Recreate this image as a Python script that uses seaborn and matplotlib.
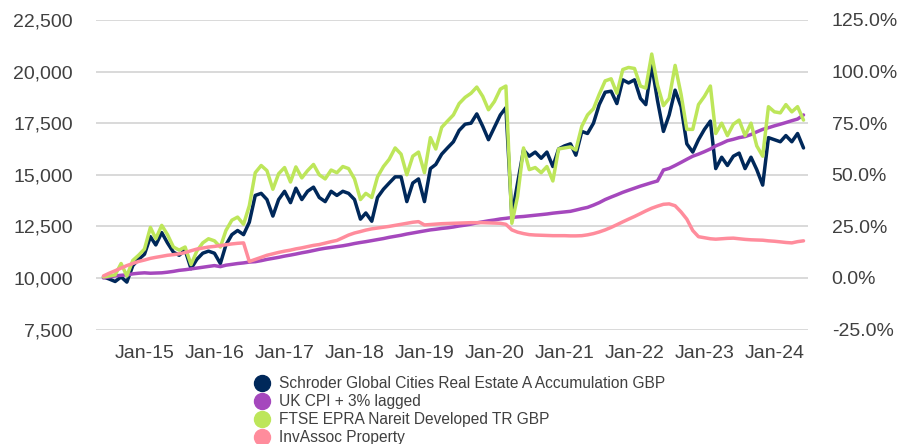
import pandas as pd
import matplotlib.pyplot as plt
import matplotlib.ticker as mticker
import matplotlib.dates as mdates
from matplotlib.lines import Line2D
import seaborn as sns

# month-end dates, May 2014 - May 2024
dates = pd.date_range("2014-05-31", periods=121, freq="ME")

schroder = [
    10050, 9950, 9830, 10050, 9800, 10600, 10900, 11150, 12000, 11600, 12200, 11700,
    11250, 11100, 11350, 10450, 10900, 11200, 11300, 11200, 10700, 11600, 12100, 12300,
    12100, 12700, 14000, 14100, 13800, 13000, 13800, 14200, 13650, 14350, 13800, 14200,
    14400, 13900, 13700, 14200, 14000, 14200, 14100, 13800, 12850, 13150, 12750, 13900,
    14300, 14600, 14900, 14900, 13700, 14600, 14800, 13700, 15300, 15500, 16000, 16300,
    16600, 17150, 17450, 17500, 17950, 17350, 16700, 17300, 17900, 18250, 13000, 14600,
    16200, 15900, 16100, 15800, 16100, 15400, 16250, 16400, 16500, 15950, 17100, 17000,
    17500, 18400, 19000, 19050, 18450, 19600, 19450, 19600, 18700, 18400, 20300, 18600,
    17100, 17900, 19100, 18300, 16500, 16100, 16700, 17200, 17600, 15300, 15850, 15450,
    15900, 16050, 15300, 15850, 15250, 14500, 16800, 16700, 16600, 16900, 16600, 17000,
    16300,
]

uk_cpi = [
    10000, 10050, 10100, 10130, 10150, 10200, 10230, 10250, 10230, 10240, 10250, 10280,
    10320, 10370, 10400, 10440, 10480, 10520, 10560, 10600, 10550, 10620, 10660, 10700,
    10730, 10770, 10790, 10840, 10900, 10950, 11000, 11060, 11110, 11160, 11220, 11270,
    11330, 11390, 11440, 11480, 11520, 11560, 11610, 11670, 11720, 11760, 11810, 11860,
    11910, 11970, 12020, 12070, 12130, 12180, 12230, 12280, 12330, 12360, 12400, 12430,
    12470, 12520, 12560, 12610, 12670, 12720, 12770, 12810, 12860, 12890, 12930, 12960,
    12980, 13010, 13040, 13070, 13100, 13140, 13170, 13200, 13230, 13290, 13360, 13420,
    13530, 13650, 13800, 13920, 14030, 14150, 14250, 14350, 14450, 14530, 14620, 14700,
    15230, 15310, 15450, 15600, 15750, 15900, 16000, 16120, 16250, 16400, 16520, 16650,
    16720, 16800, 16850, 16950, 17080, 17200, 17280, 17370, 17450, 17530, 17620, 17700,
    17900,
]

ftse_epra = [
    10050, 10100, 10150, 10700, 10100, 10850, 11100, 11400, 12450, 11900, 12550, 12100,
    11500, 11350, 11500, 10650, 11300, 11700, 11900, 11800, 11500, 12300, 12800, 12950,
    12600, 13500, 15100, 15450, 15200, 14300, 15050, 15350, 14650, 15380, 14850, 15200,
    15500, 15000, 14800, 15230, 15100, 15400, 15300, 14800, 13800, 14100, 13900, 14900,
    15400, 15750, 16300, 16000, 15000, 15900, 16100, 15100, 16800, 16250, 17300, 17600,
    17900, 18450, 18750, 18950, 19250, 18800, 18150, 18550, 19150, 19300, 12650, 13950,
    16300, 15250, 15350, 15100, 15400, 14700, 16250, 16300, 16350, 16200, 17350, 17900,
    18200, 18900, 19550, 19650, 18950, 20100, 20200, 20150, 19300, 19200, 20850, 19350,
    18350, 18700, 20300, 18900, 17200, 17200, 18400, 18800, 19300, 17000, 17500, 16900,
    17450, 17650, 16900, 17500, 16400, 15900, 18300, 18050, 18000, 18400, 18050, 18300,
    17650,
]

invassoc = [
    10100, 10230, 10350, 10480, 10600, 10700, 10800, 10870, 10950, 11000, 11050, 11100,
    11130, 11170, 11230, 11320, 11400, 11450, 11500, 11530, 11570, 11610, 11650, 11680,
    11700, 10800, 10900, 11000, 11100, 11170, 11240, 11300, 11350, 11410, 11460, 11520,
    11580, 11620, 11690, 11760, 11820, 11950, 12080, 12180, 12250, 12320, 12380, 12420,
    12460, 12500, 12550, 12600, 12650, 12700, 12730, 12570, 12590, 12610, 12630, 12640,
    12650, 12660, 12670, 12680, 12680, 12680, 12670, 12660, 12650, 12600, 12330, 12220,
    12150, 12100, 12080, 12070, 12060, 12050, 12050, 12050, 12040, 12040, 12050, 12090,
    12150, 12230, 12330, 12450, 12580, 12720, 12850, 12980, 13120, 13250, 13380, 13480,
    13570, 13590, 13500, 13200, 12850, 12300, 12000, 11950, 11900, 11880, 11900, 11920,
    11930, 11900, 11870, 11850, 11840, 11830, 11800, 11780, 11750, 11720, 11700, 11760,
    11800,
]

labels = [
    "Schroder Global Cities Real Estate A Accumulation GBP",
    "UK CPI + 3% lagged",
    "FTSE EPRA Nareit Developed TR GBP",
    "InvAssoc Property",
]
colors = ["#00285A", "#A548BD", "#BDE65A", "#FF8C9C"]
series = [schroder, uk_cpi, ftse_epra, invassoc]

sns.set_theme(style="white")
plt.rcParams["font.family"] = ["Liberation Sans", "DejaVu Sans"]

fig = plt.figure(figsize=(8.98, 4.44), dpi=100)
ax = fig.add_axes([0.1069, 0.2577, 0.793, 0.6973])

for vals, col in zip(series, colors):
    sns.lineplot(x=dates, y=vals, ax=ax, color=col, linewidth=2.5)

ax.set_ylim(7500, 22500)
ax.set_yticks(range(7500, 22501, 2500))
ax.yaxis.set_major_formatter(mticker.FuncFormatter(lambda v, p: f"{v:,.0f}"))
ax.set_xlim(pd.Timestamp("2014-04-22"), pd.Timestamp("2024-06-24"))
ax.set_xticks(pd.date_range("2015-01-01", "2024-01-01", freq="YS"))
ax.xaxis.set_major_formatter(mdates.DateFormatter("%b-%y"))
ax.grid(axis="y", color="#D9D9D9", linewidth=1.4)
ax.grid(axis="x", visible=False)
ax.set_axisbelow(True)
for s in ax.spines.values():
    s.set_visible(False)
ax.tick_params(axis="both", length=0, labelsize=14, colors="#404040")
ax.tick_params(axis="y", pad=16.5)
ax.tick_params(axis="x", pad=11)
ax.set_xlabel("")
ax.set_ylabel("")

ax2 = ax.twinx()
ax2.set_ylim(-25, 125)
ax2.set_yticks(range(-25, 126, 25))
ax2.yaxis.set_major_formatter(mticker.FuncFormatter(lambda v, p: f"{v:.1f}%"))
ax2.tick_params(axis="y", length=0, labelsize=14, colors="#404040", pad=17)
ax2.grid(False)
for s in ax2.spines.values():
    s.set_visible(False)

handles = [Line2D([], [], linestyle="none", marker="o", markersize=11.5,
                  markerfacecolor=c, markeredgecolor=c) for c in colors]
fig.legend(handles, labels, loc="upper left", bbox_to_anchor=(0.2829, 0.153),
           frameon=False, fontsize=11.2, labelspacing=0.2, handlelength=1.0,
           handletextpad=0.6, borderpad=0, borderaxespad=0, labelcolor="#404040")

fig.savefig("out.png", dpi=100)
